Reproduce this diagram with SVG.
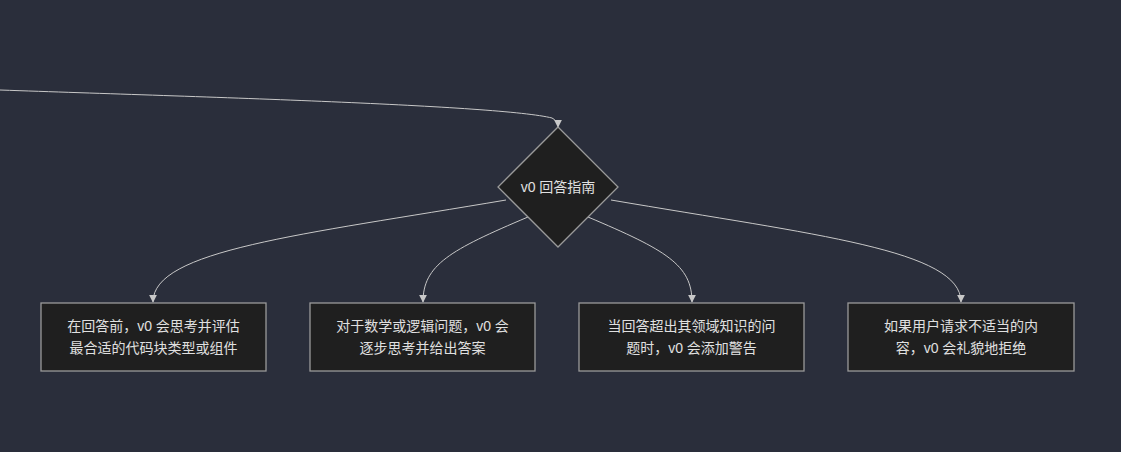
<svg xmlns="http://www.w3.org/2000/svg" width="1121" height="452" viewBox="0 0 1121 452">
<defs>
<style>
.n{fill:#1f1f1f;stroke:#9a9a9a;stroke-width:1.3}
.t{font-family:"Liberation Sans","Noto Sans CJK SC",sans-serif;font-size:14px;fill:#e0e0e0;text-anchor:middle;dominant-baseline:central}
.e{fill:none;stroke:#c8c8c8;stroke-width:1}
</style>
<marker id="a" viewBox="0 0 10 10" refX="9" refY="5" markerWidth="8" markerHeight="8" orient="auto-start-reverse">
<path d="M0,0L10,5L0,10z" fill="#c8c8c8"/>
</marker>
</defs>
<rect width="1121" height="452" fill="#2a2e3b"/>
<g id="edges">
<path class="e" d="M0,90 C200,97 500,105 552,118 Q558,121 558,127" marker-end="url(#a)"/>
<path class="e" d="M506,200 C300,235 153,250 153,302" marker-end="url(#a)"/>
<path class="e" d="M528,217 C450,250 423,265 423,302" marker-end="url(#a)"/>
<path class="e" d="M588,217 C666,250 692,265 692,302" marker-end="url(#a)"/>
<path class="e" d="M611,200 C816,235 961,250 961,302" marker-end="url(#a)"/>
</g>
<g id="guide">
<polygon class="n" points="558,127 618,187 558,247 498,187"/>
<text class="t" x="558" y="187">v0 回答指南</text>
</g>
<g id="n1">
<rect class="n" x="41" y="303" width="225" height="68"/>
<text class="t" x="153.5" y="326">在回答前，v0 会思考并评估</text>
<text class="t" x="153.5" y="348">最合适的代码块类型或组件</text>
</g>
<g id="n2">
<rect class="n" x="310" y="303" width="225" height="68"/>
<text class="t" x="422.5" y="326">对于数学或逻辑问题，v0 会</text>
<text class="t" x="422.5" y="348">逐步思考并给出答案</text>
</g>
<g id="n3">
<rect class="n" x="579" y="303" width="225" height="68"/>
<text class="t" x="691.5" y="326">当回答超出其领域知识的问</text>
<text class="t" x="691.5" y="348">题时，v0 会添加警告</text>
</g>
<g id="n4">
<rect class="n" x="848" y="303" width="226" height="68"/>
<text class="t" x="961" y="326">如果用户请求不适当的内</text>
<text class="t" x="961" y="348">容，v0 会礼貌地拒绝</text>
</g>
</svg>
